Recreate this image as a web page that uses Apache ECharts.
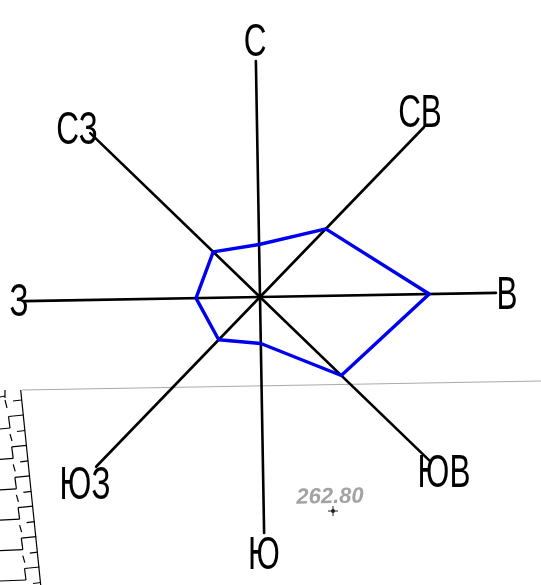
<!DOCTYPE html>
<html>
<head>
<meta charset="utf-8">
<style>
html,body{margin:0;padding:0;background:#fff}
#chart{width:541px;height:585px}
</style>
<script src="https://cdn.jsdelivr.net/npm/echarts@6/dist/echarts.min.js"></script>
</head>
<body>
<div id="chart"></div>
<script>
// румбы против часовой стрелки, начиная с севера (так идёт ось radar)
const directions = ['С', 'СЗ', 'З', 'ЮЗ', 'Ю', 'ЮВ', 'В', 'СВ'];
const windValues = [5.56, 6.89, 6.78, 6.3, 4.93, 11.97, 17.93, 10.03];
const axisMax = 25;
const spotHeight = '262.80';

const labelFont = '"Liberation Sans",Arial,sans-serif';
const labelPos = {
    'С': [255, 43], 'СВ': [420, 114], 'В': [507, 296], 'ЮВ': [444, 474],
    'Ю': [264, 556], 'ЮЗ': [85, 486], 'З': [19, 303], 'СЗ': [77, 131]
};

// подпись румба, шрифт сжат по ширине
const dirLabels = directions.map(d => ({
    type: 'text', x: labelPos[d][0], y: labelPos[d][1], z: 10, scaleX: 0.67,
    style: { text: d, font: '47px ' + labelFont, fill: '#000', align: 'center', verticalAlign: 'middle' }
}));

// штриховка слева внизу (фрагмент плана)
function line(x1, y1, x2, y2) {
    return {
        type: 'line', silent: true,
        shape: { x1, y1, x2, y2 },
        style: { stroke: '#000', lineWidth: 1.2 }
    };
}
const hatch = [line(20.7, 390, 40.7, 585)];
for (let i = 0; i < 6; i++) {
    const dx = i * 3.2, dy = i * 30.4;
    hatch.push(line(8.5 + dx, 416.5 + dy, 23.5 + dx, 415 + dy));
    hatch.push(line(8.5 + dx, 416.5 + dy, 10 + dx, 428 + dy));
    hatch.push(line(0, 429 + dy, 10 + dx, 428 + dy));
    hatch.push(line(17 + dx, 431.5 + dy, 25 + dx, 430.5 + dy));
    hatch.push(line(10 + dx, 434 + dy, 12 + dx, 441 + dy));
}
hatch.push(line(5, 390, 5, 398), line(0, 397, 5, 396), line(5, 400, 7, 408));
hatch.push(line(13, 401, 21.5, 400));

const background = [
    { type: 'line', shape: { x1: 22, y1: 390, x2: 541, y2: 381 }, style: { stroke: '#aaa', lineWidth: 1.2 } },
    ...hatch,
    {
        type: 'text', x: 330, y: 497, rotation: 0.02,
        style: { text: spotHeight, font: 'italic bold 22px "Liberation Sans",Arial,sans-serif', fill: '#a3a3a3', align: 'center', verticalAlign: 'middle' }
    },
    { type: 'line', shape: { x1: 328, y1: 511, x2: 338, y2: 511 }, style: { stroke: '#222', lineWidth: 1 } },
    { type: 'line', shape: { x1: 333, y1: 506, x2: 333, y2: 516 }, style: { stroke: '#222', lineWidth: 1 } },
    { type: 'circle', shape: { cx: 333, cy: 511, r: 2 }, style: { fill: '#222' } }
];

const myChart = echarts.init(document.getElementById('chart'));
myChart.setOption({
    animation: false,
    backgroundColor: '#fff',
    radar: {
        center: [260, 297],
        radius: 236,
        startAngle: 91,
        splitNumber: 1,
        indicator: directions.map(d => ({ name: d, min: 0, max: axisMax })),
        axisName: { show: false },
        axisLine: { lineStyle: { color: '#000', width: 2.6 } },
        axisTick: { show: false },
        axisLabel: { show: false },
        splitLine: { show: false },
        splitArea: { show: false }
    },
    series: [{
        type: 'radar',
        symbol: 'none',
        z: 5,
        lineStyle: { color: '#0000ee', width: 3.4 },
        data: [{ value: windValues, name: 'Роза ветров' }]
    }],
    graphic: { elements: [...background, ...dirLabels] }
});
</script>
</body>
</html>
